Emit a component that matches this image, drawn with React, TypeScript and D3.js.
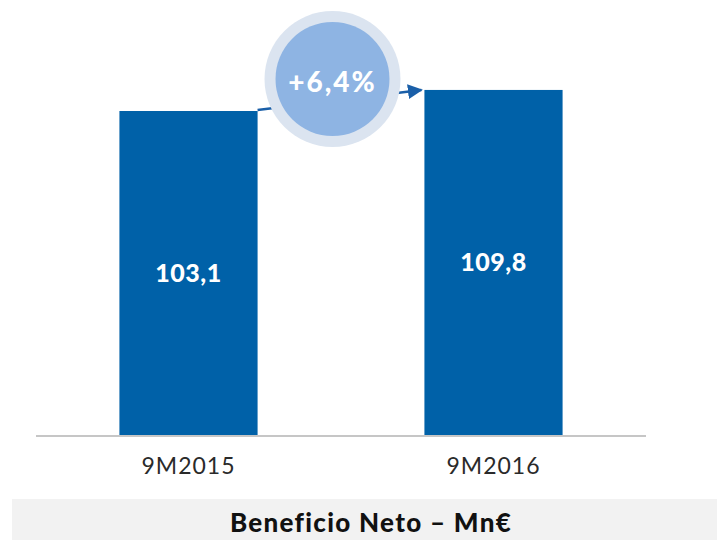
import React from "react";
import * as d3 from "d3";

const categories = ["9M2015", "9M2016"];
const values = [103.1, 109.8];
const valueLabels = ["103,1", "109,8"];
const growthLabel = "+6,4%";
const title = "Beneficio Neto – Mn€";

export default function App() {
  const W = 717, H = 540;
  const x = d3.scaleBand<string>().domain(categories).range([36, 646]).paddingInner(0.547).paddingOuter(0.2735);
  const y = d3.scaleLinear().domain([0, 120]).range([435, 435 - 120 * 3.1426]);
  const bw = x.bandwidth();
  const x1 = (x(categories[0]) as number) + bw;
  const y1 = y(values[0]);
  const x2 = x(categories[1]) as number;
  const y2 = y(values[1]);
  const cx = 332.5, cy = 79;
  const ff = "Lato, 'Open Sans', sans-serif";
  return (
    <svg width={W} height={H} style={{ position: "absolute", left: 0, top: 0 }}>
      <defs>
        <marker id="ah" viewBox="0 0 10 10" refX="9" refY="5" markerWidth="6" markerHeight="6" orient="auto" markerUnits="strokeWidth">
          <path d="M0,0 L10,5 L0,10 Z" fill="#1a5fa8" />
        </marker>
      </defs>
      <rect x={0} y={0} width={W} height={H} fill="#fff" />
      {categories.map((c, i) => (
        <rect key={c} x={x(c)} y={y(values[i])} width={bw} height={y(0) - y(values[i])} fill="#0061a8" />
      ))}
      <line x1={36} x2={646} y1={436} y2={436} stroke="#b3b3b3" strokeWidth={1.5} />
      {categories.map((c, i) => (
        <text key={c + "l"} x={(x(c) as number) + bw / 2} y={(y(values[i]) + y(0)) / 2 + 9} textAnchor="middle"
          fill="#fff" fontFamily={ff} fontWeight={900} fontSize={25} letterSpacing={0.5}>{valueLabels[i]}</text>
      ))}
      {categories.map((c) => (
        <text key={c + "c"} x={(x(c) as number) + bw / 2} y={474} textAnchor="middle"
          fill="#2a2a2a" fontFamily={ff} fontSize={23} letterSpacing={1}>{c}</text>
      ))}
      <line x1={x1} y1={y1 - 1} x2={x2 - 3} y2={y2} stroke="#1a5fa8" strokeWidth={2.5} markerEnd="url(#ah)" />
      <circle cx={cx} cy={cy} r={68} fill="#dbe4f0" />
      <circle cx={cx} cy={cy} r={57} fill="#8eb4e3" />
      <text x={cx} y={92} textAnchor="middle" fill="#fff" fontFamily={ff}
        fontWeight={900} fontSize={28} letterSpacing={2}>{growthLabel}</text>
      <rect x={12} y={499} width={W - 12} height={41} fill="#f2f2f2" />
      <text x={371} y={532} textAnchor="middle" fill="#111" fontFamily={ff}
        fontWeight={900} fontSize={26} letterSpacing={1.3}>{title}</text>
    </svg>
  );
}
